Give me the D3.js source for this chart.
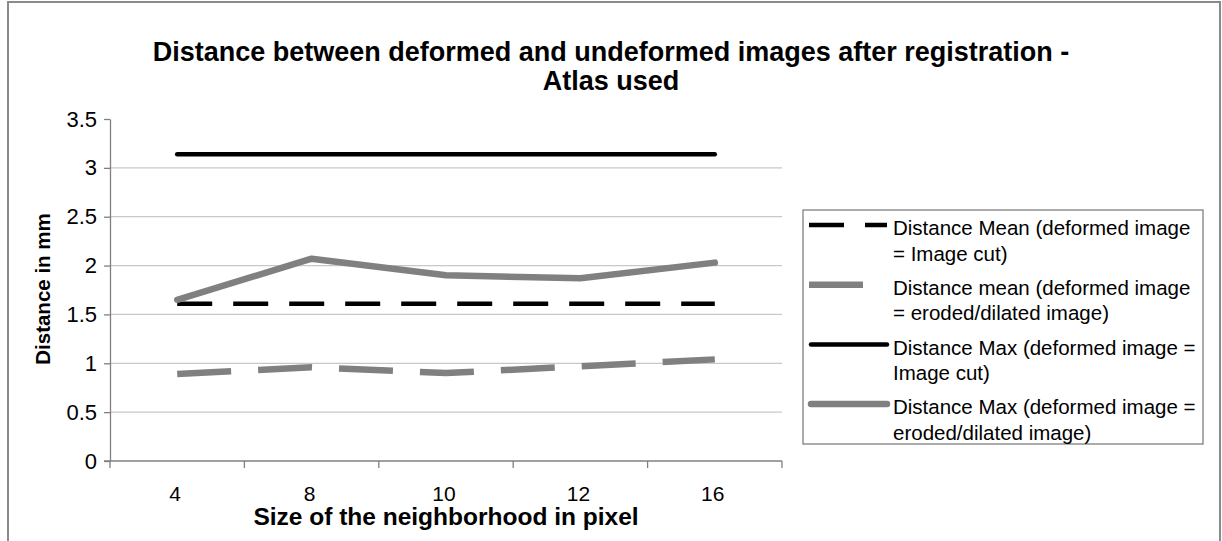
<!DOCTYPE html>
<html>
<head>
<meta charset="utf-8">
<script src="https://cdn.jsdelivr.net/npm/d3@7"></script>
<style>
  body { margin: 0; background: #fff; }
  text { font-family: "Liberation Sans", Arial, sans-serif; fill: #000; }
</style>
</head>
<body>
<svg id="chart" width="1222" height="541"></svg>
<script>
// Neighborhood sizes (pixels) on the x axis
const categories = ["4", "8", "10", "12", "16"];
// Distances in mm
const meanCut    = [1.61, 1.61, 1.61, 1.61, 1.61];
const meanEroded = [0.89, 0.96, 0.90, 0.97, 1.04];
const maxCut     = [3.14, 3.14, 3.14, 3.14, 3.14];
const maxEroded  = [1.65, 2.07, 1.90, 1.87, 2.03];
const yTicks = [0, 0.5, 1, 1.5, 2, 2.5, 3, 3.5];
const yTickLabels = ["0", "0.5", "1", "1.5", "2", "2.5", "3", "3.5"];
const seriesLabels = [
  ["Distance Mean (deformed image", "= Image cut)"],
  ["Distance mean (deformed image", "= eroded/dilated image)"],
  ["Distance Max (deformed image =", "Image cut)"],
  ["Distance Max (deformed image =", "eroded/dilated image)"]
];
const titleLines = ["Distance between deformed and undeformed images after registration -", "Atlas used"];

const series = [
  { values: meanCut,    color: "#000000", width: 4.5, dash: "35,21" },
  { values: meanEroded, color: "#808080", width: 6.5, dash: "54,27" },
  { values: maxCut,     color: "#000000", width: 4.5, dash: null },
  { values: maxEroded,  color: "#808080", width: 6.5, dash: null }
];

const svg = d3.select("#chart");
const plot = { left: 110, right: 782, top: 119, bottom: 461 };

const x = d3.scaleBand().domain(categories).range([plot.left, plot.right]);
const y = d3.scaleLinear().domain([0, 3.5]).range([plot.bottom, plot.top]);

// Outer frame (open at the bottom)
svg.append("path")
  .attr("d", "M8,541V2H1220V541")
  .attr("fill", "none").attr("stroke", "#8a8a8a").attr("stroke-width", 2);

// Title
svg.append("g").selectAll("text").data(titleLines).join("text")
  .attr("x", 611).attr("y", (d, i) => 61 + i * 29)
  .attr("text-anchor", "middle")
  .attr("font-size", 27).attr("font-weight", "bold")
  .text(d => d);

// Horizontal gridlines
svg.append("g").selectAll("line").data(yTicks.filter(t => t > 0 && t < 3.5)).join("line")
  .attr("x1", plot.left).attr("x2", plot.right)
  .attr("y1", d => y(d)).attr("y2", d => y(d))
  .attr("stroke", "#c8c8c8").attr("stroke-width", 1.2);

// Y axis
const yAxis = svg.append("g")
  .attr("transform", `translate(${plot.left},0)`)
  .call(d3.axisLeft(y).tickValues(yTicks).tickFormat((d, i) => yTickLabels[i]).tickSize(6).tickPadding(7).tickSizeOuter(0));
yAxis.select(".domain").attr("stroke", "#808080").attr("stroke-width", 1.3);
yAxis.selectAll(".tick line").attr("stroke", "#808080").attr("stroke-width", 1.3);
yAxis.selectAll(".tick text").attr("font-size", 22).attr("font-family", "Liberation Sans, Arial, sans-serif").attr("fill", "#000");

// X axis: ticks sit on the category boundaries
const bounds = categories.map(c => x(c)).concat([plot.right]);
const xAxisG = svg.append("g");
xAxisG.append("line")
  .attr("x1", plot.left - 6).attr("x2", plot.right)
  .attr("y1", plot.bottom).attr("y2", plot.bottom)
  .attr("stroke", "#808080").attr("stroke-width", 1.3);
xAxisG.selectAll("line.tk").data(bounds).join("line").attr("class", "tk")
  .attr("x1", d => d).attr("x2", d => d)
  .attr("y1", plot.bottom).attr("y2", plot.bottom + 7)
  .attr("stroke", "#808080").attr("stroke-width", 1.3);
xAxisG.selectAll("text").data(categories).join("text")
  .attr("x", d => x(d) + x.bandwidth() / 2 - 2).attr("y", 501)
  .attr("text-anchor", "middle").attr("font-size", 21)
  .text(d => d);

// Axis titles
svg.append("text")
  .attr("x", 446).attr("y", 525)
  .attr("text-anchor", "middle").attr("font-size", 24.5).attr("font-weight", "bold")
  .text("Size of the neighborhood in pixel");
svg.append("text")
  .attr("transform", "translate(50,289) rotate(-90)")
  .attr("text-anchor", "middle").attr("font-size", 20.5).attr("font-weight", "bold")
  .text("Distance in mm");

// Series lines
const line = d3.line()
  .x((d, i) => x(categories[i]) + x.bandwidth() / 2)
  .y(d => y(d));

svg.append("g").selectAll("path").data(series).join("path")
  .attr("d", d => line(d.values))
  .attr("fill", "none")
  .attr("stroke", d => d.color)
  .attr("stroke-width", d => d.width)
  .attr("stroke-dasharray", d => d.dash)
  .attr("stroke-linecap", d => d.dash ? "butt" : "round")
  .attr("stroke-linejoin", "round");

// Legend
const legend = svg.append("g");
legend.append("rect")
  .attr("x", 803).attr("y", 210).attr("width", 400).attr("height", 234)
  .attr("fill", "#fff").attr("stroke", "#808080").attr("stroke-width", 1.3);
const entry = legend.selectAll("g.entry").data(series).join("g").attr("class", "entry")
  .attr("transform", (d, i) => `translate(0,${228 + i * 59.7})`);
entry.append("line")
  .attr("x1", d => d.dash ? 809 : 811).attr("x2", 887)
  .attr("y1", -3).attr("y2", -3)
  .attr("stroke", d => d.color)
  .attr("stroke-width", d => d.width)
  .attr("stroke-dasharray", d => d.dash)
  .attr("stroke-linecap", d => d.dash ? "butt" : "round");
entry.selectAll("text").data((d, i) => seriesLabels[i]).join("text")
  .attr("x", 893).attr("y", (d, j) => j * 25.5)
  .attr("dy", "0.35em")
  .attr("font-size", 20.5)
  .text(d => d);
</script>
</body>
</html>
